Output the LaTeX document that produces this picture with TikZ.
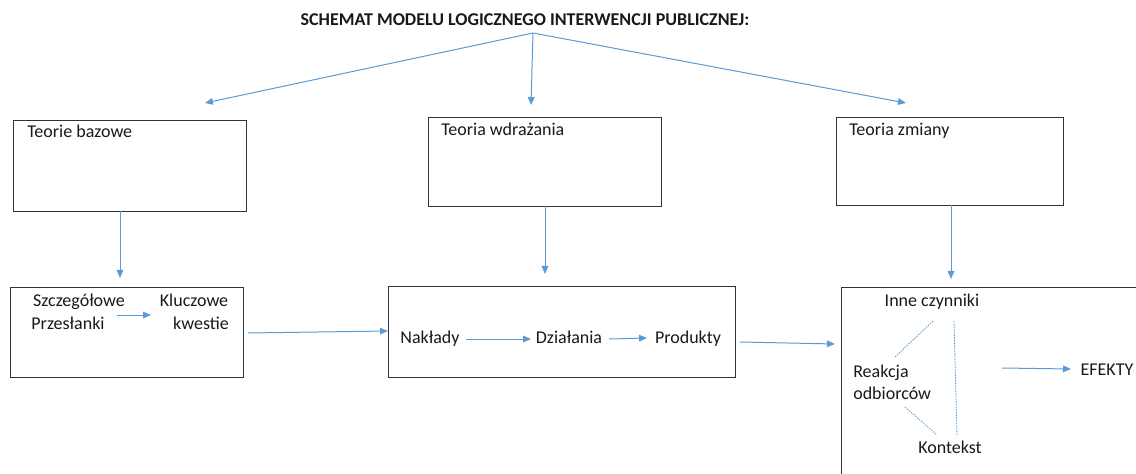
\documentclass[tikz,border=0pt]{standalone}
\usepackage{fontspec}
\setmainfont{Carlito}
\usetikzlibrary{arrows.meta}
\definecolor{arr}{HTML}{5B9BD5}
\tikzset{
  box/.style={draw=black!80, line width=0.6pt, inner sep=0pt},
  lbl/.style={inner sep=0pt, font=\fontsize{13.5}{16.5}\selectfont, text=black!90, text height=9.5pt, text depth=3pt},
  conn/.style={draw=arr, line width=0.75pt, -{Triangle[length=6pt,width=5pt]}},
  link/.style={draw=arr, line width=0.6pt, dash pattern=on 1.2pt off 0.8pt},
}
\begin{document}
\begin{tikzpicture}[x=0.75pt,y=-0.75pt]
\useasboundingbox (0,0) rectangle (1136,474);
\clip (0,0) rectangle (1136,474);
% title
\node[lbl, font=\fontsize{13.5}{16}\bfseries] (title) at (525,21) {SCHEMAT MODELU LOGICZNEGO INTERWENCJI PUBLICZNEJ:};
\coordinate (src) at (533,33);
% theory boxes
\node[box, minimum width=174.75pt, minimum height=68.25pt] (b1) at (129.5,165.5) {};
\node[box, minimum width=174.75pt, minimum height=66.75pt] (b2) at (544.5,161.5) {};
\node[box, minimum width=170.25pt, minimum height=66pt] (b3) at (949.5,161) {};
\node[lbl, anchor=north west] (t1) at (27,125) {Teorie bazowe};
\node[lbl, anchor=north west] (t2) at (441,123) {Teoria wdrażania};
\node[lbl, anchor=north west] (t3) at (849,123) {Teoria zmiany};
% arrow tips from title
\coordinate (a1) at (205,103);
\coordinate (a2) at (531,105);
\coordinate (a3) at (906,103);
\draw[conn] (src) -- (a1);
\draw[conn] (src) -- (a2);
\draw[conn] (src) -- (a3);
% lower boxes
\node[box, minimum width=174.75pt, minimum height=67.5pt] (b4) at (126.5,332) {};
\node[box, minimum width=260.25pt, minimum height=68.25pt] (b5) at (561.5,331.5) {};
\node[box, minimum width=240pt, minimum height=160pt, anchor=north west] (b6) at (841,287) {};
% vertical arrows
\coordinate (d1) at (120,278);
\coordinate (d2) at (545,274);
\coordinate (d3) at (951,279);
\draw[conn] (120,211) -- (d1);
\draw[conn] (545,206) -- (d2);
\draw[conn] (951,205) -- (d3);
% box 4 content
\node[lbl] (sz) at (79,302) {Szczegółowe};
\node[lbl] (pr) at (68,325) {Przesłanki};
\node[lbl] (kl) at (194,302) {Kluczowe};
\node[lbl] (kw) at (201,325) {kwestie};
\coordinate (s1) at (117,315);
\coordinate (s2) at (151,315);
\draw[conn] (s1) -- (s2);
% between boxes
\coordinate (h1) at (248,333);
\coordinate (h2) at (388,331);
\draw[conn] (h1) -- (h2);
\coordinate (h3) at (740,342);
\coordinate (h4) at (835,344);
\draw[conn] (h3) -- (h4);
% box 5 content
\node[lbl] (nak) at (430,339) {Nakłady};
\node[lbl] (dzi) at (569,339) {Działania};
\node[lbl] (pro) at (688,339) {Produkty};
\coordinate (n1) at (466,339);
\coordinate (n2) at (531,339);
\coordinate (n3) at (609,339);
\coordinate (n4) at (647,338);
\draw[conn] (n1) -- (n2);
\draw[conn] (n3) -- (n4);
% box 6 content
\node[lbl] (inne) at (932,302) {Inne czynniki};
\node[lbl, align=left, anchor=west, text width=80pt, text height=, text depth=] (reak) at (853,382) {Reakcja\\odbiorców};
\node[lbl] (kon) at (950,449) {Kontekst};
\node[lbl] (efe) at (1107,371) {EFEKTY};
\coordinate (e1) at (1002,368);
\coordinate (e2) at (1071,369);
\draw[conn] (e1) -- (e2);
\coordinate (l1a) at (933,321);
\coordinate (l1b) at (895,357);
\coordinate (l2a) at (954,321);
\coordinate (l2b) at (957,436);
\coordinate (l3a) at (905,407);
\coordinate (l3b) at (937,435);
\draw[link] (l1a) -- (l1b);
\draw[link] (l2a) -- (l2b);
\draw[link] (l3a) -- (l3b);
\end{tikzpicture}
\end{document}
